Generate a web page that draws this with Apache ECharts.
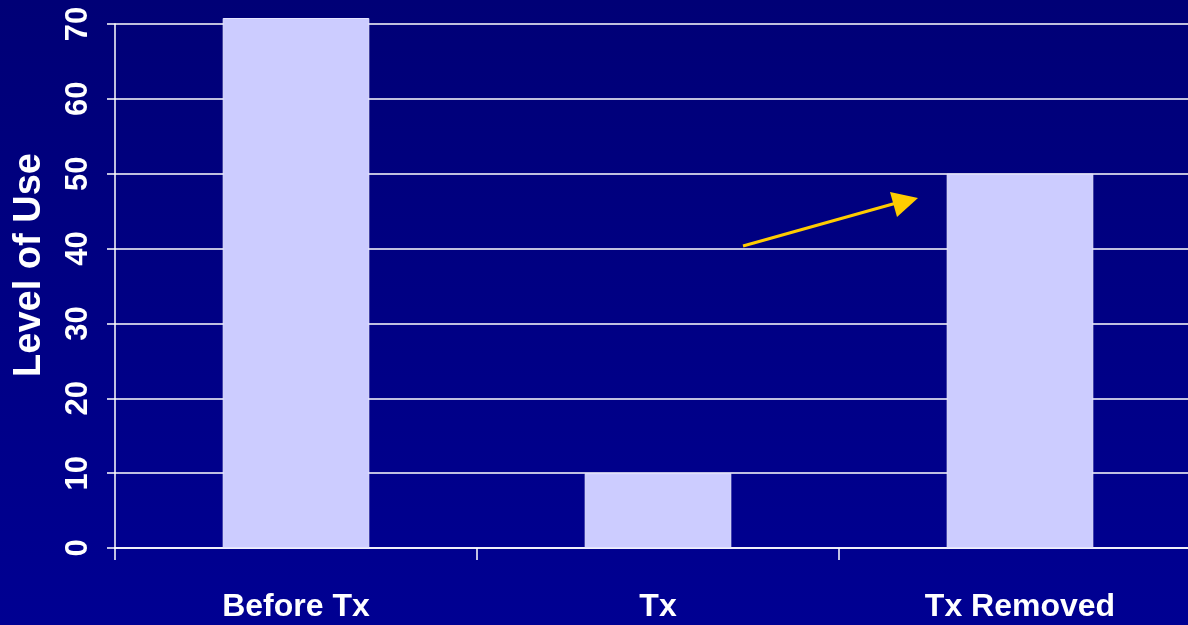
<!DOCTYPE html>
<html>
<head>
<meta charset="utf-8">
<script src="https://cdn.jsdelivr.net/npm/echarts@6/dist/echarts.min.js"></script>
<style>
html,body{margin:0;padding:0;background:#000080;}
#chart{width:1188px;height:625px;}
</style>
</head>
<body>
<div id="chart"></div>
<script>
const categories = ['Before Tx', 'Tx', 'Tx Removed'];
const levelOfUse = [70.8, 10, 50];
const yTicks = [0, 10, 20, 30, 40, 50, 60, 70];
const yAxisTitle = 'Level of Use';

const chart = echarts.init(document.getElementById('chart'), null, {renderer: 'canvas'});
const font = "'Liberation Sans', Arial, Helvetica, sans-serif";
chart.setOption({
  animation: false,
  backgroundColor: {
    type: 'linear', x: 0, y: 0, x2: 0, y2: 1,
    colorStops: [{offset: 0, color: '#000076'}, {offset: 1, color: '#000092'}]
  },
  grid: {left: 115, top: 24, right: -13, bottom: 77, containLabel: false, outerBoundsMode: 'none'},
  xAxis: {
    type: 'category',
    data: categories,
    boundaryGap: true,
    axisLine: {show: true, lineStyle: {color: '#ffffff', width: 1.5}},
    axisTick: {show: true, length: 12, lineStyle: {color: '#ffffff', width: 1.5}},
    axisLabel: {color: '#ffffff', fontFamily: font, fontWeight: 'bold', fontSize: 32, margin: 43}
  },
  yAxis: {
    type: 'value',
    min: yTicks[0],
    max: yTicks[yTicks.length - 1],
    interval: 10,
    name: yAxisTitle,
    nameLocation: 'middle',
    nameGap: 66,
    nameRotate: 90,
    nameTextStyle: {color: '#ffffff', fontFamily: font, fontWeight: 'bold', fontSize: 38, padding: [0, 0, 0, 42]},
    axisLine: {show: true, lineStyle: {color: '#ffffff', width: 1.5}},
    axisTick: {show: true, length: 8, lineStyle: {color: '#ffffff', width: 1.5}},
    splitLine: {show: true, lineStyle: {color: '#ffffff', width: 1.5}},
    axisLabel: {color: '#ffffff', fontFamily: font, fontWeight: 'bold', fontSize: 31, rotate: 90, margin: 21}
  },
  series: [{
    type: 'bar',
    data: levelOfUse,
    barWidth: '40.5%',
    clip: false,
    itemStyle: {color: '#CCCCFF', borderColor: '#E4E4FF', borderWidth: 1}
  }],
  graphic: [{
    type: 'group',
    children: [
      {type: 'line', shape: {x1: 743, y1: 246, x2: 900, y2: 202}, style: {stroke: '#FFCC00', lineWidth: 3}},
      {type: 'polygon', shape: {points: [[918, 198], [890, 192], [897, 217]]}, style: {fill: '#FFCC00'}}
    ]
  }]
});
</script>
</body>
</html>
